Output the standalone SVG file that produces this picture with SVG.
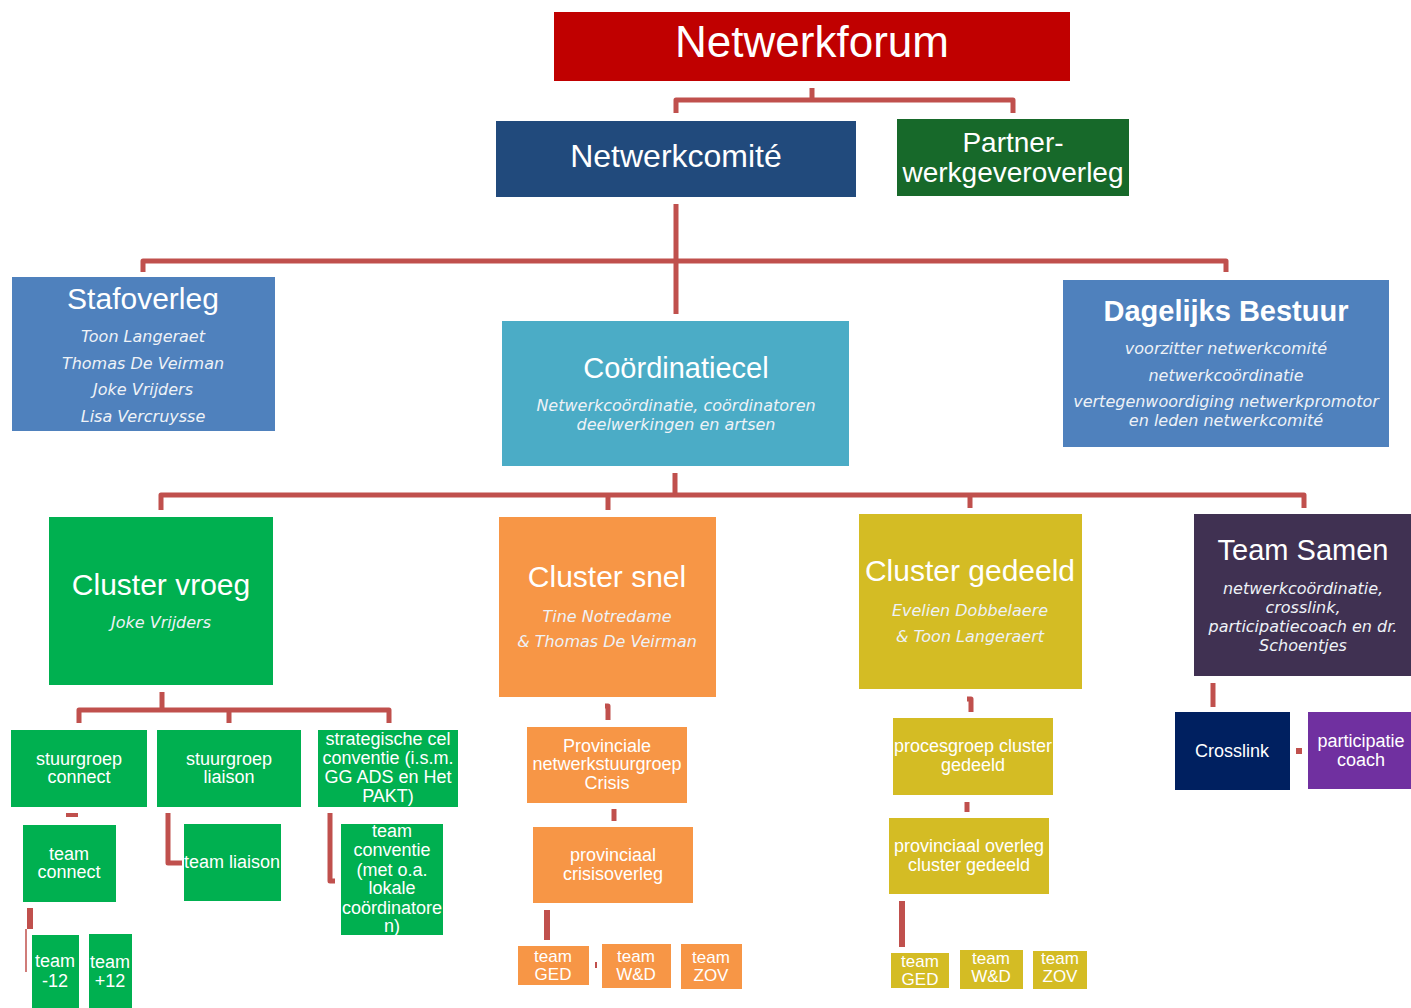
<svg xmlns="http://www.w3.org/2000/svg" width="1411" height="1008" viewBox="0 0 1411 1008">
<style>
text{font-family:"Liberation Sans",Arial,sans-serif;fill:#ffffff;text-anchor:middle}
.it{font-family:"DejaVu Sans",Verdana,sans-serif;font-style:italic;font-size:16px;fill:#eef2f7}
.sm{font-size:18px}
.xs{font-size:17px}
.conn path{fill:none;stroke:#c0504d;stroke-width:5;stroke-linejoin:round}
</style>
<rect width="1411" height="1008" fill="#ffffff"/>
<g class="conn" id="connectors">
<path d="M812,88 V100 M676,113 V100 H1013 V113"/>
<path d="M676,204 V314 M143,272 V261 H1226 V272"/>
<path d="M675,473 V495 M161,510 V495 H1304 V508 M608,495 V510 M970,495 V508"/>
<path d="M162,692 V710 M79,723 V710 H389 V723 M229,710 V723"/>
<path d="M66,815 H78" style="stroke-width:4"/>
<path d="M168,813 V863 H182"/>
<path d="M330,813 V881 H335"/>
<path d="M30,908 V929" style="stroke-width:6"/>
<path d="M26,929 V972" style="stroke-width:1.5"/>
<path d="M605,706 H608 V720"/>
<path d="M614,809 V821"/>
<path d="M547,910 V940" style="stroke-width:6"/>
<path d="M596,962 V968" style="stroke-width:2"/>
<path d="M967,699 H971 V712"/>
<path d="M967,802 V812"/>
<path d="M902,901 V947" style="stroke-width:6"/>
<path d="M1213,683 V707"/>
<path d="M1296,751 H1302" style="stroke-width:6"/>
</g>
<g id="netwerkforum"><rect x="554" y="12" width="516" height="69" fill="#c00000"/><text x="812" y="57" font-size="44">Netwerkforum</text></g>
<g id="netwerkcomite"><rect x="496" y="121" width="360" height="76" fill="#214a7c"/><text x="676" y="167" font-size="32">Netwerkcomité</text></g>
<g id="partner"><rect x="897" y="119" width="232" height="77" fill="#17692a"/><text x="1013" y="152" font-size="28">Partner-</text><text x="1013" y="182" font-size="28">werkgeveroverleg</text></g>
<g id="stafoverleg"><rect x="12" y="277" width="263" height="154" fill="#4f81bd"/><text x="143" y="309" font-size="30">Stafoverleg</text>
<text class="it" x="143" y="342">Toon Langeraet</text><text class="it" x="143" y="369">Thomas De Veirman</text><text class="it" x="143" y="395">Joke Vrijders</text><text class="it" x="143" y="422">Lisa Vercruysse</text></g>
<g id="coordinatiecel"><rect x="502" y="321" width="347" height="145" fill="#4bacc6"/><text x="676" y="378" font-size="29">Coördinatiecel</text>
<text class="it" x="676" y="411">Netwerkcoördinatie, coördinatoren</text><text class="it" x="676" y="430">deelwerkingen en artsen</text></g>
<g id="dagelijks-bestuur"><rect x="1063" y="280" width="326" height="167" fill="#4f81bd"/><text x="1226" y="321" font-size="29" font-weight="bold">Dagelijks Bestuur</text>
<text class="it" x="1226" y="354">voorzitter netwerkcomité</text><text class="it" x="1226" y="381">netwerkcoördinatie</text><text class="it" x="1226" y="407">vertegenwoordiging netwerkpromotor</text><text class="it" x="1226" y="426">en leden netwerkcomité</text></g>
<g id="cluster-vroeg"><rect x="49" y="517" width="224" height="168" fill="#00b050"/><text x="161" y="595" font-size="30">Cluster vroeg</text><text class="it" x="161" y="628">Joke Vrijders</text></g>
<g id="cluster-snel"><rect x="499" y="517" width="217" height="180" fill="#f79646"/><text x="607" y="587" font-size="30">Cluster snel</text><text class="it" x="607" y="622">Tine Notredame</text><text class="it" x="607" y="647">&amp; Thomas De Veirman</text></g>
<g id="cluster-gedeeld"><rect x="859" y="514" width="223" height="175" fill="#d4bc24"/><text x="970" y="581" font-size="30">Cluster gedeeld</text><text class="it" x="970" y="616">Evelien Dobbelaere</text><text class="it" x="970" y="642">&amp; Toon Langeraert</text></g>
<g id="team-samen"><rect x="1194" y="514" width="217" height="162" fill="#403152"/><text x="1303" y="560" font-size="29">Team Samen</text>
<text class="it" x="1303" y="594">netwerkcoördinatie,</text><text class="it" x="1303" y="613">crosslink,</text><text class="it" x="1303" y="632">participatiecoach en dr.</text><text class="it" x="1303" y="651">Schoentjes</text></g>
<g id="stuurgroep-connect"><rect x="11" y="730" width="136" height="77" fill="#00b050"/><text class="sm" x="79" y="765">stuurgroep</text><text class="sm" x="79" y="783">connect</text></g>
<g id="stuurgroep-liaison"><rect x="157" y="730" width="144" height="77" fill="#00b050"/><text class="sm" x="229" y="765">stuurgroep</text><text class="sm" x="229" y="783">liaison</text></g>
<g id="strategische-cel"><rect x="318" y="730" width="140" height="77" fill="#00b050"/><text class="sm" x="388" y="745">strategische cel</text><text class="sm" x="388" y="764">conventie (i.s.m.</text><text class="sm" x="388" y="783">GG ADS en Het</text><text class="sm" x="388" y="802">PAKT)</text></g>
<g id="team-connect"><rect x="23" y="825" width="93" height="77" fill="#00b050"/><text class="sm" x="69" y="860">team</text><text class="sm" x="69" y="878">connect</text></g>
<g id="team-liaison"><rect x="184" y="824" width="97" height="77" fill="#00b050"/><text class="sm" x="232" y="868">team liaison</text></g>
<g id="team-conventie"><rect x="341" y="824" width="102" height="111" fill="#00b050"/><text class="sm" x="392" y="837">team</text><text class="sm" x="392" y="856">conventie</text><text class="sm" x="392" y="876">(met o.a.</text><text class="sm" x="392" y="894">lokale</text><text class="sm" x="392" y="914">coördinatore</text><text class="sm" x="392" y="932">n)</text></g>
<g id="team-min12"><rect x="32" y="935" width="47" height="73" fill="#00b050"/><text class="sm" x="55" y="967">team</text><text class="sm" x="55" y="987">-12</text></g>
<g id="team-plus12"><rect x="89" y="934" width="43" height="74" fill="#00b050"/><text class="sm" x="110" y="968">team</text><text class="sm" x="110" y="987">+12</text></g>
<g id="provinciale-netwerkstuurgroep"><rect x="527" y="727" width="160" height="76" fill="#f79646"/><text class="sm" x="607" y="752">Provinciale</text><text class="sm" x="607" y="770">netwerkstuurgroep</text><text class="sm" x="607" y="789">Crisis</text></g>
<g id="provinciaal-crisisoverleg"><rect x="533" y="827" width="160" height="76" fill="#f79646"/><text class="sm" x="613" y="861">provinciaal</text><text class="sm" x="613" y="880">crisisoverleg</text></g>
<g id="snel-team-ged"><rect x="518" y="946" width="71" height="39" fill="#f79646"/><text class="xs" x="553" y="962">team</text><text class="xs" x="553" y="980">GED</text></g>
<g id="snel-team-wd"><rect x="602" y="944" width="69" height="44" fill="#f79646"/><text class="xs" x="636" y="962">team</text><text class="xs" x="636" y="980">W&amp;D</text></g>
<g id="snel-team-zov"><rect x="681" y="944" width="61" height="45" fill="#f79646"/><text class="xs" x="711" y="963">team</text><text class="xs" x="711" y="981">ZOV</text></g>
<g id="procesgroep"><rect x="893" y="718" width="160" height="77" fill="#d4bc24"/><text class="sm" x="973" y="752">procesgroep cluster</text><text class="sm" x="973" y="771">gedeeld</text></g>
<g id="provinciaal-overleg"><rect x="889" y="818" width="160" height="76" fill="#d4bc24"/><text class="sm" x="969" y="852">provinciaal overleg</text><text class="sm" x="969" y="871">cluster gedeeld</text></g>
<g id="gedeeld-team-ged"><rect x="891" y="953" width="58" height="35" fill="#d4bc24"/><text class="xs" x="920" y="967">team</text><text class="xs" x="920" y="985">GED</text></g>
<g id="gedeeld-team-wd"><rect x="960" y="950" width="63" height="39" fill="#d4bc24"/><text class="xs" x="991" y="964">team</text><text class="xs" x="991" y="982">W&amp;D</text></g>
<g id="gedeeld-team-zov"><rect x="1033" y="951" width="54" height="38" fill="#d4bc24"/><text class="xs" x="1060" y="964">team</text><text class="xs" x="1060" y="982">ZOV</text></g>
<g id="crosslink"><rect x="1175" y="712" width="115" height="78" fill="#002060"/><text class="sm" x="1232" y="757">Crosslink</text></g>
<g id="participatiecoach"><rect x="1308" y="712" width="103" height="77" fill="#7030a0"/><text class="sm" x="1361" y="747">participatie</text><text class="sm" x="1361" y="766">coach</text></g>
</svg>
